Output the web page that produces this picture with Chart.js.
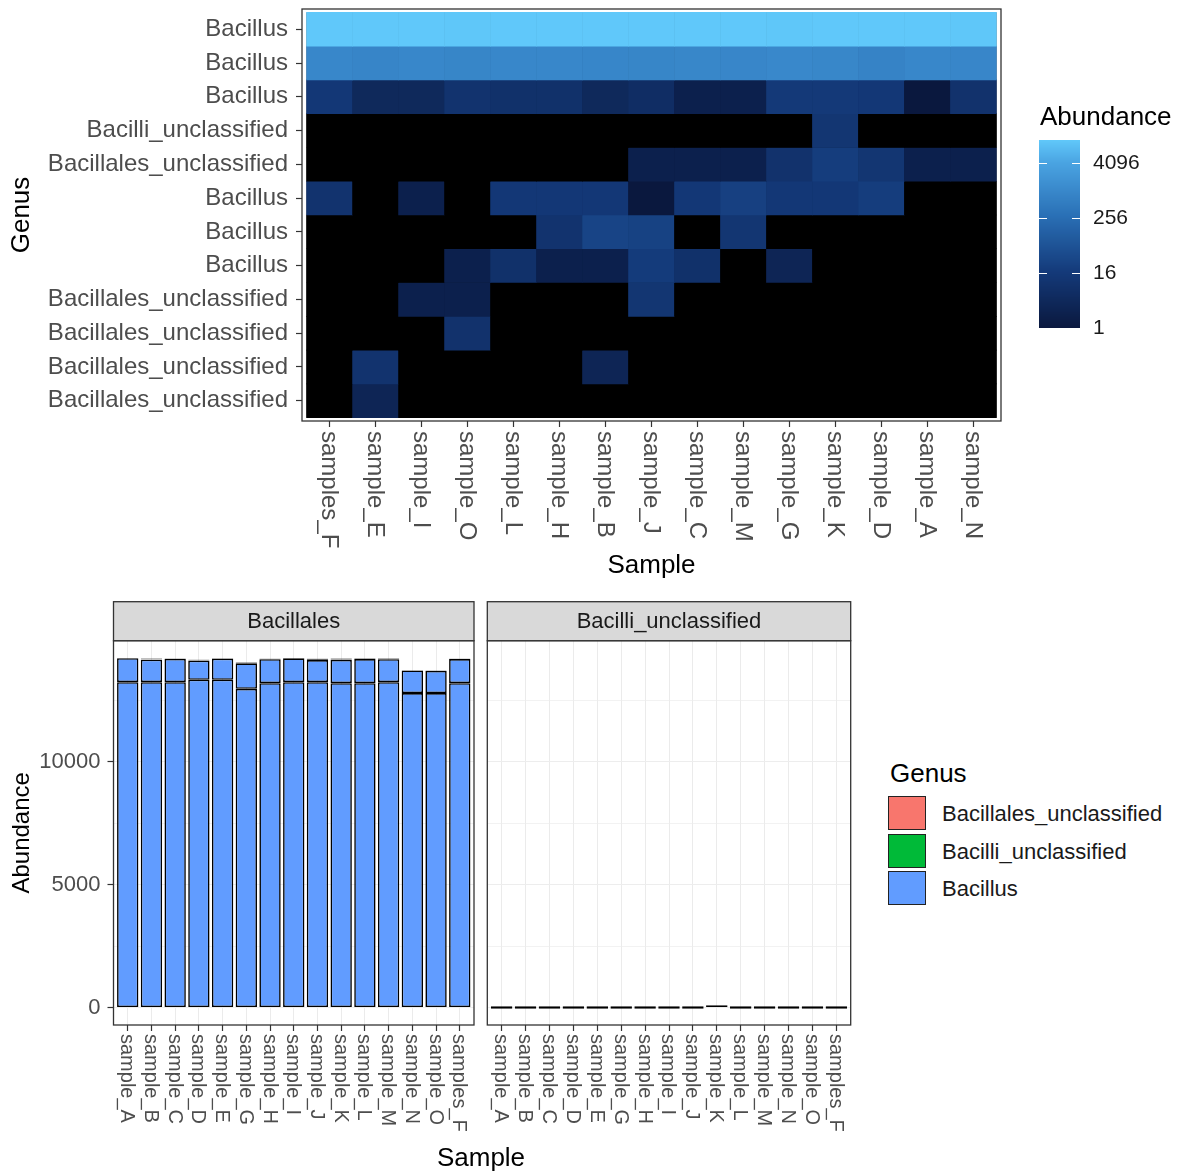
<!DOCTYPE html>
<html>
<head>
<meta charset="utf-8">
<script src="https://cdn.jsdelivr.net/npm/chart.js@4.4.1/dist/chart.umd.min.js"></script>
<style>
  html, body { margin: 0; padding: 0; background: #fff; }
  body { width: 1179px; height: 1174px; position: relative; overflow: hidden;
         font-family: 'Liberation Sans', Arial, sans-serif; }
  canvas { position: absolute; }
  #heat { left: 0; top: 0; }
  #facetA { left: 0; top: 590px; }
  #facetB { left: 480px; top: 590px; }
  #sampleTitle { position: absolute; left: 381px; width: 200px; top: 1141px; line-height: 32px;
                 text-align: center; font-size: 26px; color: #000; }
  #legend { position: absolute; left: 888px; top: 758px; }
  #legend .title { font-size: 26px; line-height: 30px; height: 38px; margin-left: 2px; color: #000; }
  #legend .item { height: 37.5px; position: relative; }
  #legend .key { position: absolute; left: 0; top: 0; width: 36px; height: 32px; border: 1.5px solid #222; }
  #legend .label { position: absolute; left: 54px; top: 0; line-height: 35px; font-size: 22px;
                   color: #1A1A1A; white-space: nowrap; }
</style>
</head>
<body>
<canvas id="heat" width="1179" height="590"></canvas>
<canvas id="facetA" width="480" height="584"></canvas>
<canvas id="facetB" width="380" height="584"></canvas>
<div id="sampleTitle">Sample</div>
<div id="legend"></div>
<script>
// samples in the order of the bar chart
const samples = ['sample_A', 'sample_B', 'sample_C', 'sample_D', 'sample_E', 'sample_G', 'sample_H',
                 'sample_I', 'sample_J', 'sample_K', 'sample_L', 'sample_M', 'sample_N', 'sample_O', 'samples_F'];
// samples in the order of the heatmap columns
const heatmapSamples = ['samples_F', 'sample_E', 'sample_I', 'sample_O', 'sample_L', 'sample_H', 'sample_B',
                        'sample_J', 'sample_C', 'sample_M', 'sample_G', 'sample_K', 'sample_D', 'sample_A', 'sample_N'];
// heatmap rows, top to bottom
const otuGenus = ['Bacillus', 'Bacillus', 'Bacillus', 'Bacilli_unclassified', 'Bacillales_unclassified',
                  'Bacillus', 'Bacillus', 'Bacillus', 'Bacillales_unclassified', 'Bacillales_unclassified',
                  'Bacillales_unclassified', 'Bacillales_unclassified'];
const genusLevels = ['Bacillales_unclassified', 'Bacilli_unclassified', 'Bacillus'];
const genusColours = ['#F8766D', '#00BA38', '#619CFF'];
const facets = ['Bacillales', 'Bacilli_unclassified'];
const abundanceTicks = [0, 5000, 10000];
const abundanceMinor = [2500, 7500, 12500];
const colourbarTicks = [1, 16, 256, 4096];

// counts per OTU, values in the order of `samples`
const otu01 = [13230, 13230, 13230, 13330, 13330, 12960, 13190, 13230, 13230, 13190, 13190, 13230, 12790, 12790, 13190];
const otu02 = [975, 915, 950, 780, 860, 1040, 975, 970, 900, 950, 980, 935, 920, 905, 980];
const otu03 = [1, 4, 2, 14, 4, 16, 8, 4, 6, 16, 8, 2, 9, 10, 14];
const otu04 = [0, 0, 0, 0, 0, 0, 0, 0, 0, 12, 0, 0, 0, 0, 0];
const otu05 = [2, 0, 2, 12, 0, 9, 0, 0, 2, 20, 0, 2, 2, 0, 0];
const otu06 = [0, 14, 14, 20, 0, 14, 14, 2, 1, 14, 14, 24, 0, 0, 10];
const otu07 = [0, 30, 0, 0, 0, 0, 10, 0, 26, 0, 0, 12, 0, 0, 0];
const otu08 = [0, 2, 8, 0, 0, 3, 2, 0, 18, 0, 8, 0, 0, 2, 0];
const otu09 = [0, 0, 0, 0, 0, 0, 0, 2, 12, 0, 0, 0, 0, 2, 0];
const otu10 = [0, 0, 0, 0, 0, 0, 0, 0, 0, 0, 0, 0, 0, 9, 0];
const otu11 = [0, 3, 0, 0, 10, 0, 0, 0, 0, 0, 0, 0, 0, 0, 0];
const otu12 = [0, 0, 0, 0, 3, 0, 0, 0, 0, 0, 0, 0, 0, 0, 0];
const otuRows = [otu01, otu02, otu03, otu04, otu05, otu06, otu07, otu08, otu09, otu10, otu11, otu12];

const FONT = "'Liberation Sans', Arial, sans-serif";
Chart.defaults.font.family = FONT;
Chart.defaults.animation = false;
Chart.defaults.events = [];
Chart.defaults.plugins.legend.display = false;
Chart.defaults.plugins.tooltip.enabled = false;

const maxCount = Math.max(...otuRows.flat());
const stops = [[0, [10, 24, 62]], [0.3, [20, 58, 122]], [0.6, [42, 112, 182]], [0.88, [74, 164, 226]], [1, [96, 200, 250]]];
function abundanceColour(v) {
  if (!(v > 0)) return '#000000';
  const t = Math.min(1, Math.max(0, Math.log2(v) / Math.log2(maxCount)));
  let i = 0;
  while (i < stops.length - 2 && t > stops[i + 1][0]) i++;
  const [t0, c0] = stops[i], [t1, c1] = stops[i + 1];
  const f = (t - t0) / (t1 - t0);
  const c = c0.map((a, k) => Math.round(a + (c1[k] - a) * f));
  return 'rgb(' + c.join(',') + ')';
}

// sample labels rotated to read downwards, as in the reference
const downLabels = {
  id: 'downLabels',
  afterDraw(chart, args, opts) {
    const sc = chart.scales.x, ctx = chart.ctx;
    ctx.save();
    ctx.font = opts.size + 'px ' + FONT;
    ctx.fillStyle = '#4D4D4D';
    ctx.textAlign = 'left';
    ctx.textBaseline = 'middle';
    sc.ticks.forEach(t => {
      ctx.save();
      ctx.translate(sc.getPixelForValue(t.value) - 1, chart.chartArea.bottom + opts.gap);
      ctx.rotate(Math.PI / 2);
      ctx.fillText(opts.labels[t.value], 0, 0);
      ctx.restore();
    });
    ctx.restore();
  }
};

const panelFrame = {
  id: 'panelFrame',
  beforeDatasetsDraw(chart, args, opts) {
    if (!opts.backdrop) return;
    const {x, y} = chart.scales, ctx = chart.ctx;
    const l = x.getPixelForValue(-0.5), r = x.getPixelForValue(heatmapSamples.length - 0.5);
    const t = y.getPixelForValue(otuGenus.length - 0.5), b = y.getPixelForValue(-0.5);
    ctx.save();
    ctx.fillStyle = opts.backdrop;
    ctx.fillRect(l, t, r - l, b - t);
    ctx.restore();
  },
  afterDraw(chart, args, opts) {
    const a = chart.chartArea, ctx = chart.ctx;
    ctx.save();
    ctx.strokeStyle = '#333333';
    ctx.lineWidth = 1.3;
    ctx.strokeRect(a.left, a.top, a.right - a.left, a.bottom - a.top);
    if (opts.strip) {
      const h = opts.stripHeight;
      ctx.fillStyle = '#D9D9D9';
      ctx.fillRect(a.left, a.top - h, a.right - a.left, h);
      ctx.strokeRect(a.left, a.top - h, a.right - a.left, h);
      ctx.fillStyle = '#1A1A1A';
      ctx.font = '22px ' + FONT;
      ctx.textAlign = 'center';
      ctx.textBaseline = 'middle';
      ctx.fillText(opts.strip, (a.left + a.right) / 2, a.top - h / 2 + 1);
    }
    ctx.restore();
  }
};

const colourBar = {
  id: 'colourBar',
  afterDraw(chart) {
    const ctx = chart.ctx;
    const top = 140, bottom = 328, left = 1039, width = 41;
    const span = Math.log2(maxCount);
    ctx.save();
    for (let py = top; py < bottom; py++) {
      ctx.fillStyle = abundanceColour(Math.pow(2, (bottom - py - 0.5) / (bottom - top) * span));
      ctx.fillRect(left, py, width, 1);
    }
    ctx.font = '21px ' + FONT;
    ctx.textBaseline = 'middle';
    ctx.textAlign = 'left';
    colourbarTicks.forEach(v => {
      const py = Math.round(bottom - Math.log2(v) / span * (bottom - top)) + 0.5;
      if (v > 1) {
        ctx.strokeStyle = '#ffffff';
        ctx.lineWidth = 1;
        ctx.beginPath();
        ctx.moveTo(left, py); ctx.lineTo(left + 8, py);
        ctx.moveTo(left + width - 8, py); ctx.lineTo(left + width, py);
        ctx.stroke();
      }
      ctx.fillStyle = '#1A1A1A';
      ctx.fillText(String(v), 1093, py);
    });
    ctx.fillStyle = '#000';
    ctx.font = '26px ' + FONT;
    ctx.fillText('Abundance', 1040, 118);
    ctx.restore();
  }
};

// keep the panel edges where the layout padding puts them
function noOverhang(s) {
  s.paddingTop = 0; s.paddingBottom = 0; s.paddingLeft = 0; s.paddingRight = 0;
}

// ---- heatmap ----
const nRows = otuGenus.length;
const heatDatasets = otuRows.map((counts, r) => ({
  data: heatmapSamples.map((s, i) => ({x: i, y: [nRows - 1 - r - 0.5, nRows - 1 - r + 0.5]})),
  backgroundColor: heatmapSamples.map(s => abundanceColour(counts[samples.indexOf(s)])),
  borderWidth: 0,
  barPercentage: 1,
  categoryPercentage: 1,
  grouped: false
}));

const tickGrid = { drawOnChartArea: false, drawTicks: true, tickLength: 6, tickColor: '#333333', tickWidth: 1.2, offset: false };

new Chart(document.getElementById('heat'), {
  type: 'bar',
  data: { datasets: heatDatasets },
  plugins: [panelFrame, downLabels, colourBar],
  options: {
    responsive: false,
    layout: { padding: { left: 0, top: 9, right: 178, bottom: 0 } },
    scales: {
      x: {
        type: 'linear', offset: false,
        min: -0.6, max: heatmapSamples.length - 0.4,
        afterBuildTicks: s => { s.ticks = heatmapSamples.map((_, i) => ({value: i})); },
        afterFit: s => { s.height = 169; noOverhang(s); },
        ticks: { display: false, autoSkip: false },
        grid: tickGrid,
        border: { display: false },
        title: { display: true, text: 'Sample', color: '#000', font: { size: 26 }, padding: { top: 0, bottom: 9 } }
      },
      y: {
        type: 'linear', beginAtZero: false,
        min: -0.6, max: nRows - 0.4,
        afterBuildTicks: s => { s.ticks = otuGenus.map((_, i) => ({value: i})); },
        afterFit: s => { s.width = 302; noOverhang(s); },
        ticks: { autoSkip: false, padding: 8, color: '#4D4D4D', font: { size: 24 },
                 callback: v => otuGenus[nRows - 1 - v] },
        grid: tickGrid,
        border: { display: false },
        title: { display: true, text: 'Genus', color: '#000', font: { size: 26 }, padding: { top: 6, bottom: 0 } }
      }
    },
    plugins: {
      panelFrame: { backdrop: '#000000' },
      downLabels: { labels: heatmapSamples, size: 24, gap: 10 }
    }
  }
});

// ---- faceted stacked bars ----
const totals = samples.map((s, i) => otuRows.reduce((sum, row, r) =>
  sum + (otuGenus[r] === 'Bacilli_unclassified' ? 0 : row[i]), 0));
const yMax = Math.max(...totals);
const yTicks = [...abundanceTicks, ...abundanceMinor].sort((a, b) => a - b);

function barDataset(r, extra) {
  const g = genusLevels.indexOf(otuGenus[r]);
  return Object.assign({
    data: samples.map((s, i) => ({x: i, y: otuRows[r][i]})),
    backgroundColor: genusColours[g],
    borderColor: '#000000',
    borderWidth: 1.6,
    borderSkipped: false,
    barPercentage: 0.9,
    categoryPercentage: 1,
    inflateAmount: 0
  }, extra || {});
}

const leftRows = otuGenus.map((g, r) => r).filter(r => otuGenus[r] !== 'Bacilli_unclassified')
  .sort((a, b) => genusLevels.indexOf(otuGenus[b]) - genusLevels.indexOf(otuGenus[a]));
const rightRows = otuGenus.map((g, r) => r).filter(r => otuGenus[r] === 'Bacilli_unclassified');

function facetOptions(showAxis, padding, yWidth, strip) {
  return {
    responsive: false,
    layout: { padding: padding },
    scales: {
      x: {
        type: 'linear', stacked: true, offset: false,
        min: -0.6, max: samples.length - 0.4,
        afterBuildTicks: s => { s.ticks = samples.map((_, i) => ({value: i})); },
        afterFit: s => { s.height = 149; noOverhang(s); },
        ticks: { display: false, autoSkip: false },
        grid: { drawOnChartArea: true, color: '#EBEBEB', lineWidth: 1, drawTicks: true, tickLength: 6,
                tickColor: '#333333', tickWidth: 1.2, offset: false },
        border: { display: false }
      },
      y: {
        type: 'linear', stacked: true, beginAtZero: false,
        min: -0.05 * yMax, max: 1.05 * yMax,
        afterBuildTicks: s => { s.ticks = yTicks.map(v => ({value: v})); },
        afterFit: s => { s.width = yWidth; noOverhang(s); },
        ticks: { display: showAxis, autoSkip: false, padding: 7, color: '#4D4D4D', font: { size: 22 },
                 callback: v => abundanceTicks.includes(v) ? String(v) : '' },
        grid: { drawOnChartArea: true, lineWidth: ctx => abundanceTicks.includes(ctx.tick && ctx.tick.value) ? 1 : 0.7,
                color: '#EDEDED', drawTicks: showAxis, tickLength: 6, tickWidth: 1.2,
                tickColor: ctx => abundanceTicks.includes(ctx.tick && ctx.tick.value) ? '#333333' : 'rgba(0,0,0,0)' },
        border: { display: false },
        title: { display: showAxis, text: 'Abundance', color: '#000', font: { size: 24 }, padding: { top: 8, bottom: 0 } }
      }
    },
    plugins: {
      panelFrame: { strip: strip, stripHeight: 39 },
      downLabels: { labels: samples, size: 20, gap: 9 }
    }
  };
}

new Chart(document.getElementById('facetA'), {
  type: 'bar',
  data: { datasets: leftRows.map(r => barDataset(r)) },
  plugins: [panelFrame, downLabels],
  options: facetOptions(true, { left: 0, top: 50.7, right: 6, bottom: 0 }, 113.5, facets[0])
});

new Chart(document.getElementById('facetB'), {
  type: 'bar',
  data: { datasets: rightRows.map(r => barDataset(r, { minBarLength: 2.4 })) },
  plugins: [panelFrame, downLabels],
  options: facetOptions(false, { left: 0, top: 50.7, right: 9.3, bottom: 0 }, 7.3, facets[1])
});

// ---- genus legend ----
const legend = document.getElementById('legend');
legend.innerHTML = '<div class="title">Genus</div>' + genusLevels.map((g, i) =>
  '<div class="item"><div class="key" style="background:' + genusColours[i] + '"></div>' +
  '<div class="label">' + g + '</div></div>').join('');
</script>
</body>
</html>
